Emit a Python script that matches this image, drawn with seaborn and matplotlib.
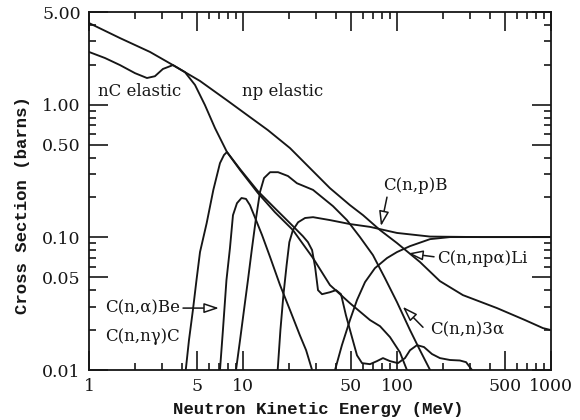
import matplotlib
matplotlib.use("Agg")
import matplotlib.pyplot as plt
import numpy as np
import pandas as pd
import seaborn as sns
from matplotlib.ticker import FixedLocator, FixedFormatter, NullFormatter

# ---- cross-section data (energy in MeV, sigma in barns) ----
np_el_E = [1.0, 1.59, 2.49, 3.51, 5.26, 7.87, 11.1, 14.5, 20.2, 27.2, 36.7, 49.5,
           60.2, 77.6, 100, 141, 190, 268, 446, 678, 887, 1000]
np_el_s = [4.13, 3.18, 2.50, 1.99, 1.51, 1.08, 0.807, 0.644, 0.471, 0.333, 0.235, 0.175,
           0.147, 0.1135, 0.0906, 0.0652, 0.0468, 0.0367, 0.0293, 0.0238, 0.0207, 0.0200]

nC_el_E = [1.0, 1.27, 1.59, 1.99, 2.38, 2.68, 3.02, 3.51, 4.20, 4.88, 5.66, 6.58, 7.87,
           9.57, 12.5, 16.1, 21.1, 28.5, 36.7, 49.5, 66.8, 77.6, 90.1, 104.5, 116]
nC_el_s = [2.50, 2.25, 1.99, 1.73, 1.59, 1.64, 1.86, 1.99, 1.76, 1.41, 0.995, 0.667, 0.440,
           0.322, 0.216, 0.155, 0.1135, 0.0698, 0.0437, 0.0319, 0.0238, 0.0214, 0.0177, 0.0136, 0.0100]

ngam_E = [4.25, 4.46, 4.73, 4.99, 5.26, 5.81, 6.42, 7.09, 7.53, 7.87, 9.57, 12.5, 16.1,
          21.1, 24.5, 26.4, 28.1, 29.4, 30.7, 32.6, 36.7, 40.2, 43.3, 46.6, 51.0, 55.0,
          59.3, 66.8, 74.1, 81.1, 90.1, 101.4, 112.7, 121.5, 134.9, 149.7, 168.7, 190,
          221, 256, 281, 307]
ngam_s = [0.0100, 0.0168, 0.0283, 0.0476, 0.0775, 0.128, 0.228, 0.363, 0.418, 0.440, 0.327,
          0.223, 0.166, 0.1216, 0.102, 0.0921, 0.0802, 0.0597, 0.0400, 0.0373, 0.0386,
          0.0400, 0.0373, 0.0259, 0.0177, 0.0129, 0.01127, 0.01107, 0.01167, 0.0123,
          0.01167, 0.01127, 0.0123, 0.0141, 0.0154, 0.0149, 0.0132, 0.0123, 0.0119,
          0.0118, 0.01146, 0.0100]

alpha_E = [7.09, 7.41, 7.81, 8.23, 8.61, 9.14, 9.78, 10.46, 11.1, 12.0, 13.3, 15.0,
           17.4, 20.2, 23.4, 25.7, 28.1]
alpha_s = [0.0100, 0.0200, 0.0476, 0.083, 0.147, 0.181, 0.198, 0.195, 0.175, 0.140,
           0.104, 0.071, 0.0437, 0.0283, 0.0183, 0.0141, 0.0100]

three_a_E = [9.01, 9.57, 10.15, 10.77, 11.4, 12.1, 12.9, 13.7, 15.0, 16.9, 19.6, 22.4,
             28.5, 38.4, 47.3, 57.5, 69.8, 83.5, 100, 121.5, 141, 164]
three_a_s = [0.0100, 0.0168, 0.0283, 0.0476, 0.0802, 0.135, 0.220, 0.280, 0.310, 0.310,
             0.290, 0.256, 0.228, 0.172, 0.135, 0.1005, 0.0735, 0.0493, 0.0325, 0.0200,
             0.0141, 0.0100]

npB_E = [16.8, 17.5, 18.3, 19.2, 20.0, 21.1, 22.8, 25.3, 28.5, 36.7, 49.5, 66.8, 100,
         164, 346, 1000]
npB_s = [0.0100, 0.0200, 0.0367, 0.0618, 0.0921, 0.1135, 0.130, 0.140, 0.142, 0.135,
         0.126, 0.120, 0.108, 0.1014, 0.1005, 0.1005]

npaLi_E = [39.6, 43.9, 49.5, 55.0, 62.0, 71.9, 86.1, 100, 121.5, 164, 221, 1000]
npaLi_s = [0.0100, 0.0154, 0.0238, 0.0337, 0.0460, 0.0586, 0.0698, 0.0775, 0.0859,
           0.0970, 0.1005, 0.1005]

x_ticks = [1, 5, 10, 50, 100, 500, 1000]
x_tick_labels = ["1", "5", "10", "50", "100", "500", "1000"]
y_ticks = [0.01, 0.05, 0.10, 0.50, 1.00, 5.00]
y_tick_labels = ["0.01", "0.05", "0.10", "0.50", "1.00", "5.00"]

curves = {
    "np elastic": (np_el_E, np_el_s),
    "nC elastic": (nC_el_E, nC_el_s),
    "C(n,ny)C": (ngam_E, ngam_s),
    "C(n,a)Be": (alpha_E, alpha_s),
    "C(n,n)3a": (three_a_E, three_a_s),
    "C(n,p)B": (npB_E, npB_s),
    "C(n,npa)Li": (npaLi_E, npaLi_s),
}
df = pd.concat(
    [pd.DataFrame({"E": e, "sigma": s, "reaction": k}) for k, (e, s) in curves.items()],
    ignore_index=True,
)

sns.set_style("ticks")
plt.rcParams["font.family"] = ["DejaVu Serif", "DejaVu Sans"]
ink = "#161616"

fig = plt.figure(figsize=(5.8, 4.2), dpi=100)
ax = fig.add_axes([0.1534, 0.119, 0.7966, 0.8524])

for name, grp in df.groupby("reaction", sort=False):
    sns.lineplot(data=grp, x="E", y="sigma", ax=ax, color=ink, lw=1.35,
                 sort=False, estimator=None, legend=False)

ax.set_xscale("log")
ax.set_yscale("log")
ax.set_xlim(1, 1000)
ax.set_ylim(0.01, 5)

x_minor = [m * d for d in (1, 10, 100) for m in range(2, 10) if m != 5]
y_minor = [m * d for d in (0.01, 0.1, 1) for m in range(2, 10) if m != 5]
y_minor = [v for v in y_minor if v < 5]
ax.xaxis.set_major_locator(FixedLocator(x_ticks))
ax.xaxis.set_major_formatter(FixedFormatter(x_tick_labels))
ax.xaxis.set_minor_locator(FixedLocator(x_minor))
ax.xaxis.set_minor_formatter(NullFormatter())
ax.yaxis.set_major_locator(FixedLocator(y_ticks))
ax.yaxis.set_major_formatter(FixedFormatter(y_tick_labels))
ax.yaxis.set_minor_locator(FixedLocator(y_minor))
ax.yaxis.set_minor_formatter(NullFormatter())

ax.tick_params(which="both", direction="in", top=True, right=True,
               width=1.2, color=ink, labelcolor=ink)
ax.tick_params(which="major", length=14, labelsize=12.5, pad=6)
ax.tick_params(which="minor", length=5)
for sp in ax.spines.values():
    sp.set_linewidth(1.3)
    sp.set_color(ink)

mono = dict(family="Liberation Mono", weight="bold", size=12.5, color=ink)
ax.set_xlabel("Neutron Kinetic Energy (MeV)", **mono)
ax.set_ylabel("Cross Section (barns)", **mono)
ax.xaxis.set_label_coords(0.496, -0.088)
ax.yaxis.set_label_coords(-0.128, 0.46)

txt = dict(fontsize=12, color=ink, family="DejaVu Serif")
ax.text(2.14, 1.25, "nC elastic", ha="center", va="center", **txt)
ax.text(18.2, 1.25, "np elastic", ha="center", va="center", **txt)
ax.text(131, 0.248, "C(n,p)B", ha="center", va="center", **txt)
ax.text(182, 0.0698, "C(n,np\u03b1)Li", ha="left", va="center", **txt)
ax.text(164, 0.020, "C(n,n)3\u03b1", ha="left", va="center", **txt)
ax.text(1.27, 0.0293, "C(n,\u03b1)Be", ha="left", va="center", **txt)
ax.text(1.27, 0.0178, "C(n,n\u03b3)C", ha="left", va="center", **txt)

arrow = dict(arrowstyle="-|>,head_length=0.9,head_width=0.3", fc="white",
             ec=ink, lw=1.1, shrinkA=0, shrinkB=0)
ax.annotate("", xy=(6.98, 0.0293), xytext=(4.08, 0.0293), arrowprops=arrow)
ax.annotate("", xy=(78.7, 0.1216), xytext=(86.1, 0.201), arrowprops=arrow)
ax.annotate("", xy=(118, 0.0757), xytext=(174, 0.0714), arrowprops=arrow)
ax.annotate("", xy=(109, 0.030), xytext=(147.5, 0.021), arrowprops=arrow)

fig.savefig("out.png", dpi=100, facecolor="white")
